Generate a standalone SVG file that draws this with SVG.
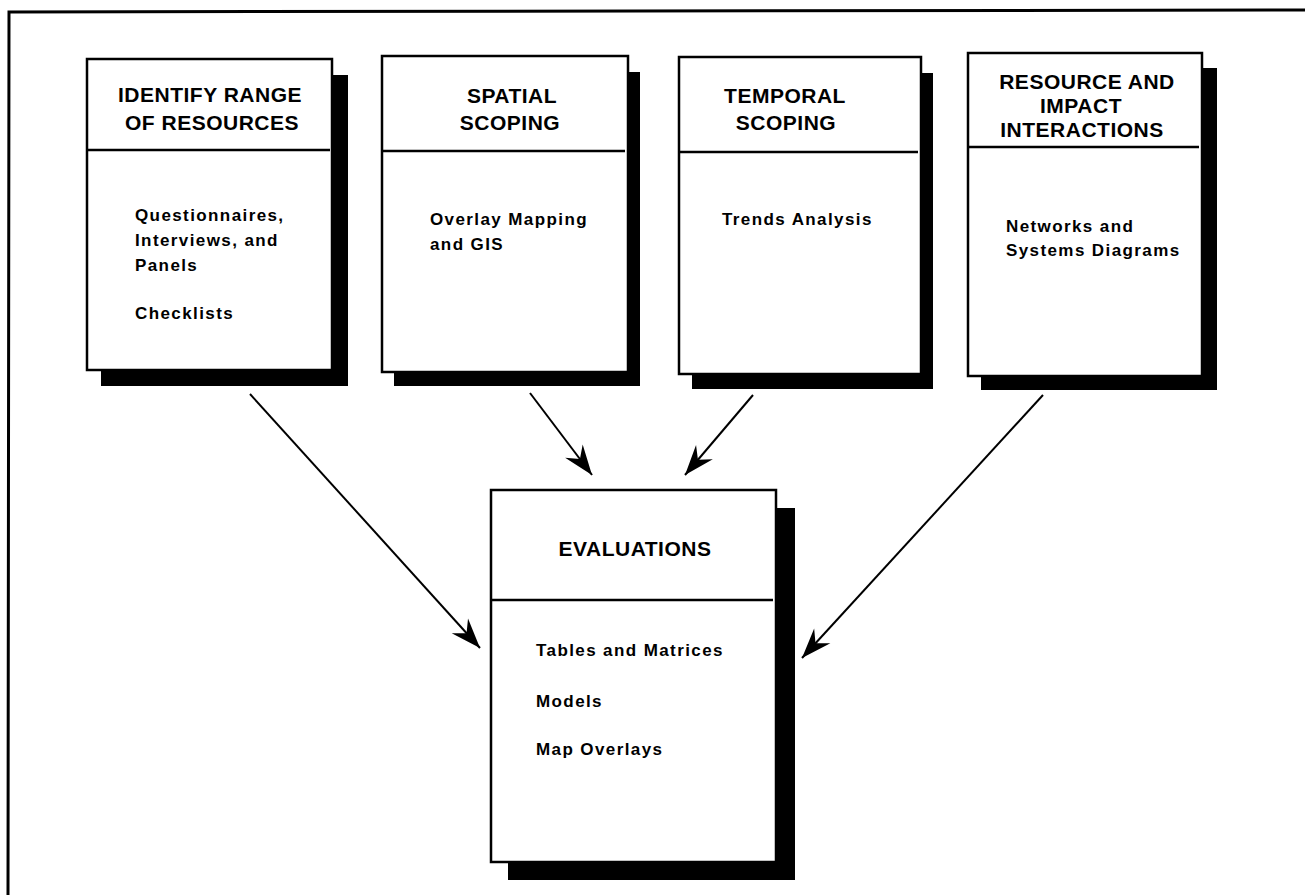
<svg xmlns="http://www.w3.org/2000/svg" width="1305" height="895" viewBox="0 0 1305 895">
<defs>
<style>
.box{fill:#fff;stroke:#000;stroke-width:2.5}
.sh{fill:#000}
.div{stroke:#000;stroke-width:2.5}
.h{font-family:"Liberation Sans",Arial,sans-serif;font-weight:bold;font-size:21px;letter-spacing:0.5px;text-anchor:middle;fill:#000}
.b{font-family:"Liberation Sans",Arial,sans-serif;font-weight:bold;font-size:17px;letter-spacing:1.4px;fill:#000}
.con{stroke:#000;stroke-width:2;fill:none}
</style>
<marker id="ah" markerUnits="userSpaceOnUse" markerWidth="34" markerHeight="28" viewBox="-32 -14 34 28" refX="0" refY="0" orient="auto">
<path d="M0,0 L-30,-11 L-20,0 L-30,11 Z" fill="#000"/>
</marker>
</defs>
<rect width="1305" height="895" fill="#fff"/>
<path d="M8,895 L9,12 L1305,10" fill="none" stroke="#000" stroke-width="3"/>

<g id="n1">
<rect class="sh" x="101" y="75" width="247" height="311"/>
<rect class="box" x="87" y="59" width="245" height="311"/>
<line class="div" x1="87" y1="150" x2="330" y2="150"/>
<text class="h" x="210" y="102">IDENTIFY RANGE</text>
<text class="h" x="212" y="130">OF RESOURCES</text>
<text class="b" x="135" y="221">Questionnaires,</text>
<text class="b" x="135" y="246">Interviews, and</text>
<text class="b" x="135" y="271">Panels</text>
<text class="b" x="135" y="319">Checklists</text>
</g>

<g id="n2">
<rect class="sh" x="394" y="72" width="246" height="314"/>
<rect class="box" x="382" y="56" width="246" height="316"/>
<line class="div" x1="382" y1="151" x2="625" y2="151"/>
<text class="h" x="512" y="103">SPATIAL</text>
<text class="h" x="510" y="130">SCOPING</text>
<text class="b" x="430" y="225">Overlay Mapping</text>
<text class="b" x="430" y="250">and GIS</text>
</g>

<g id="n3">
<rect class="sh" x="692" y="73" width="241" height="316"/>
<rect class="box" x="679" y="57" width="242" height="317"/>
<line class="div" x1="679" y1="152" x2="918" y2="152"/>
<text class="h" x="785" y="103">TEMPORAL</text>
<text class="h" x="786" y="130">SCOPING</text>
<text class="b" x="722" y="225">Trends Analysis</text>
</g>

<g id="n4">
<rect class="sh" x="981" y="68" width="236" height="322"/>
<rect class="box" x="968" y="53" width="234" height="323"/>
<line class="div" x1="968" y1="147" x2="1199" y2="147"/>
<text class="h" x="1087" y="89">RESOURCE AND</text>
<text class="h" x="1081" y="113">IMPACT</text>
<text class="h" x="1082" y="137">INTERACTIONS</text>
<text class="b" x="1006" y="232">Networks and</text>
<text class="b" x="1006" y="256">Systems Diagrams</text>
</g>

<g id="n5">
<rect class="sh" x="508" y="508" width="287" height="372"/>
<rect class="box" x="491" y="490" width="285" height="372"/>
<line class="div" x1="491" y1="600" x2="773" y2="600"/>
<text class="h" x="635" y="556">EVALUATIONS</text>
<text class="b" x="536" y="656">Tables and Matrices</text>
<text class="b" x="536" y="707">Models</text>
<text class="b" x="536" y="755">Map Overlays</text>
</g>

<g id="connectors">
<line class="con" x1="250" y1="394" x2="480" y2="648" marker-end="url(#ah)"/>
<line class="con" x1="530" y1="393" x2="592" y2="475" marker-end="url(#ah)"/>
<line class="con" x1="753" y1="395" x2="685" y2="475" marker-end="url(#ah)"/>
<line class="con" x1="1043" y1="395" x2="802" y2="658" marker-end="url(#ah)"/>
</g>
</svg>
